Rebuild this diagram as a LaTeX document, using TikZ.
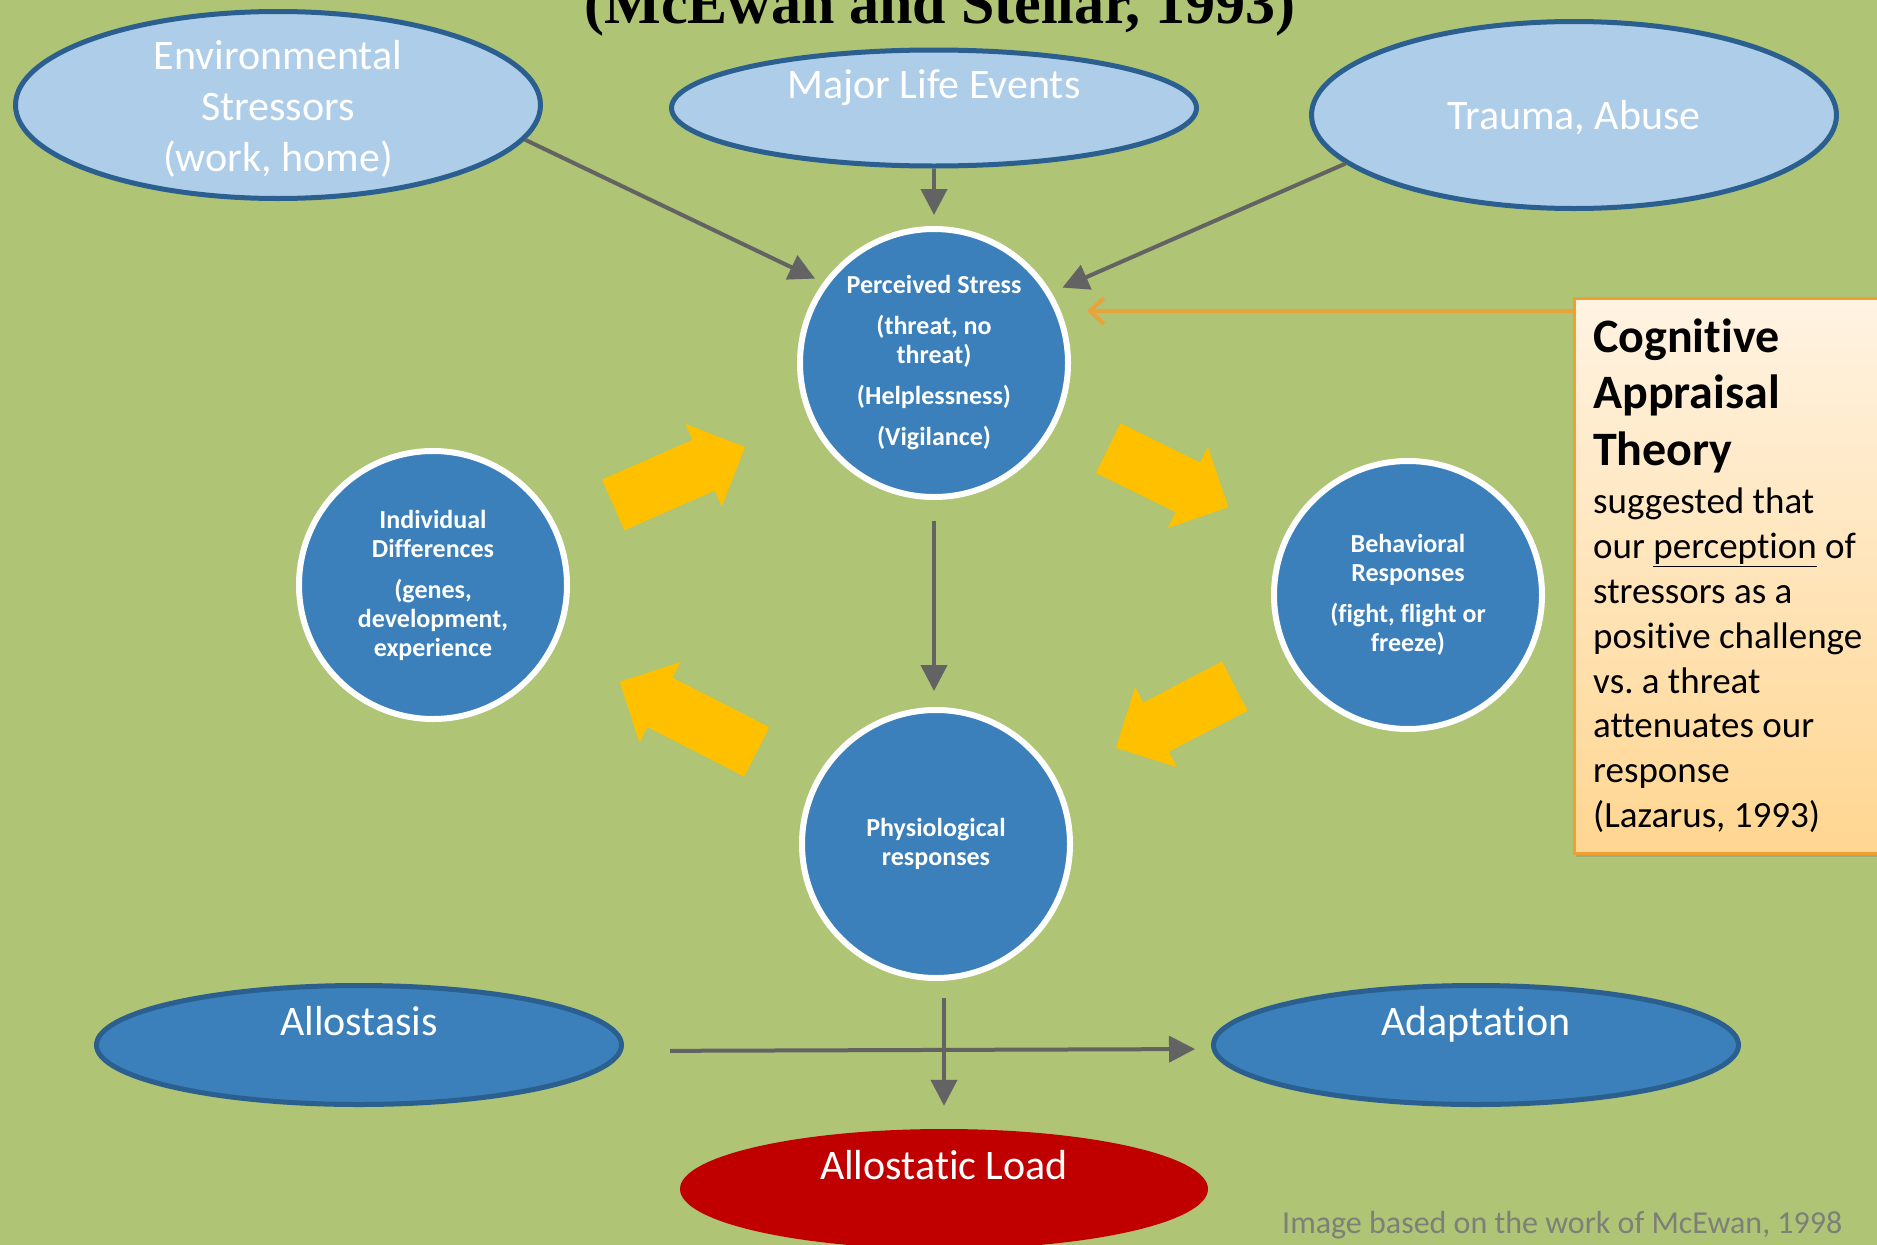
\documentclass[tikz,border=0pt]{standalone}
\usepackage{fontspec}
\setmainfont{Carlito}[Ligatures=NoCommon]
\newfontfamily\titlefont{Liberation Serif}
\usetikzlibrary{shapes.geometric}
\usetikzlibrary{shapes.arrows}
\usetikzlibrary{arrows.meta}
\usetikzlibrary{shadows}
\definecolor{bgGreen}{RGB}{175,196,116}
\definecolor{lightBlue}{RGB}{174,205,232}
\definecolor{darkBlue}{RGB}{42,95,143}
\definecolor{circleBlue}{RGB}{59,128,186}
\definecolor{loadRed}{RGB}{192,0,0}
\definecolor{arrowGray}{RGB}{99,99,99}
\definecolor{arrowYellow}{RGB}{255,192,0}
\definecolor{appraisalOrange}{RGB}{232,163,58}
\definecolor{boxTop}{RGB}{255,243,226}
\definecolor{boxBottom}{RGB}{255,214,145}
\definecolor{boxBorder}{RGB}{240,160,48}
\definecolor{footerGray}{RGB}{125,128,120}

\tikzset{
  stressCircle/.style={shape=circle, fill=circleBlue, draw=white, line width=6pt,
    minimum size=268pt, inner sep=0pt, align=center, text=white,
    font=\bfseries\fontsize{26}{29}\selectfont},
  topEllipse/.style={shape=ellipse, fill=lightBlue, draw=darkBlue, line width=5pt,
    minimum width=525pt, inner sep=0pt},
  bottomEllipse/.style={shape=ellipse, fill=circleBlue, draw=darkBlue, line width=5pt,
    minimum width=525pt, minimum height=119pt, inner sep=0pt},
  ellipseText/.style={text=white, align=center, inner sep=0pt,
    font=\fontsize{42}{51}\selectfont},
  grayArrow/.style={draw=arrowGray, line width=4pt, -{Triangle[length=26pt,width=26pt]}},
  blockArrow/.style={shape=single arrow, fill=arrowYellow, inner xsep=0pt, inner ysep=27.5pt,
    anchor=tail, single arrow head extend=17.5pt, minimum height=#1},
}

\begin{document}
\begin{tikzpicture}[x=1pt, y=-1pt]
	% --- Hintergrund ---
	\useasboundingbox (0,0) rectangle (1877,1245);
	\fill[bgGreen] (0,0) rectangle (1877,1245);

	% --- Titel (oben abgeschnitten) ---
	\node[anchor=base, inner sep=0pt, font=\titlefont\bfseries\fontsize{60}{72}\selectfont] (title) at (940,23) {(McEwan and Stellar, 1993)};

	% --- Stressoren (oben) ---
	\node[topEllipse, minimum height=187pt] (env) at (278,105){};
	\node[topEllipse, minimum height=116pt] (major) at (934,108){};
	\node[topEllipse, minimum height=187pt] (trauma) at (1574,115){};
	\node[ellipseText] (envText) at ([yshift=-4pt]env.center) {Environmental\\Stressors\\(work, home)};
	\node[ellipseText, anchor=base] (majorText) at ([yshift=10pt]major.center) {Major Life Events};
	\node[ellipseText, anchor=base] (traumaText) at ([yshift=-14pt]trauma.center) {Trauma, Abuse};

	% --- Kreislauf ---
	\node[stressCircle] (perc) at (934,363) {Perceived Stress\\[12pt](threat, no\\threat)\\[12pt](Helplessness)\\[12pt](Vigilance)};
	\node[stressCircle] (ind) at (433,585) {Individual\\Differences\\[12pt](genes,\\development,\\experience};
	\node[stressCircle] (beh) at (1408,595) {Behavioral\\Responses\\[12pt](fight, flight or\\freeze)};
	\node[stressCircle] (phys) at (936,844) {Physiological\\responses};

	% --- Ergebnisse (unten) ---
	\node[bottomEllipse] (allo) at (359,1045){};
	\node[bottomEllipse] (adapt) at (1476,1045){};
	\node[shape=ellipse, fill=loadRed, minimum width=528pt, minimum height=120pt, inner sep=0pt] (load) at (944,1189){};
	\node[ellipseText, anchor=base] (alloText) at ([yshift=10pt]allo.center) {Allostasis};
	\node[ellipseText, anchor=base] (adaptText) at ([yshift=10pt]adapt.center) {Adaptation};
	\node[ellipseText, anchor=base] (loadText) at ([yshift=10pt]load.center) {Allostatic Load};

	% --- Gelbe Pfeile ---
	\node[blockArrow=144pt, rotate=23.7] (indToPerc) at (613,505){};
	\node[blockArrow=134pt, rotate=-26.2] (percToBeh) at (1108,448){};
	\node[blockArrow=134pt, rotate=207.5] (behToPhys) at (1235,686){};
	\node[blockArrow=154pt, rotate=152.9] (physToInd) at (757,752){};

	% --- Graue Pfeile ---
	\draw[grayArrow, shorten >=9pt] (env.-8) -- (perc.144);
	\draw[grayArrow, shorten >=11pt] (major.south) -- (perc.north);
	\draw[grayArrow, shorten >=12pt] (trauma.-168) -- (perc.31);
	\draw[grayArrow, shorten <=21pt, shorten >=16pt] (perc.south) -- (perc.south |- phys.north);
	\draw[grayArrow, shorten <=17pt, shorten >=23pt] (phys.south -| load.north) -- (load.north);
	\draw[grayArrow, shorten <=46pt, shorten >=16pt] ([yshift=-6pt]allo.east) -- ([yshift=-4pt]adapt.west);

	% --- Kasten Cognitive Appraisal ---
	\node[anchor=north west, minimum width=340pt, minimum height=555pt, top color=boxTop, bottom color=boxBottom,
	  draw=boxBorder, line width=2.5pt, drop shadow={shadow xshift=2pt, shadow yshift=-4pt, opacity=.35}] (cog) at (1573,297){};
	\node[anchor=base west, text width=290pt, align=left, inner sep=0pt] (cogText) at (1593,352) {%
	  {\bfseries\fontsize{48}{56.5}\selectfont\spaceskip=0pt\xspaceskip=0pt Cognitive\\Appraisal\\Theory\par}
	  \vspace{4pt}
	  {\fontsize{37}{44.8}\selectfont\spaceskip=0pt\xspaceskip=0pt suggested that\\our \underline{perception} of\\stressors as a\\positive challenge\\vs.\ a threat\\attenuates our\\response\\(Lazarus, 1993)\par}};
	\coordinate (appraisalTip) at (1087,311);
	\draw[draw=appraisalOrange, line width=4pt, -{Straight Barb[length=14pt,width=26pt,line width=4pt]}] (cog.west |- appraisalTip) -- (appraisalTip);

	% --- Quelle ---
	\node[anchor=base west, inner sep=0pt, text=footerGray, font=\fontsize{32}{38}\selectfont] (credit) at (1282,1233) {Image based on the work of McEwan, 1998};
\end{tikzpicture}
\end{document}
